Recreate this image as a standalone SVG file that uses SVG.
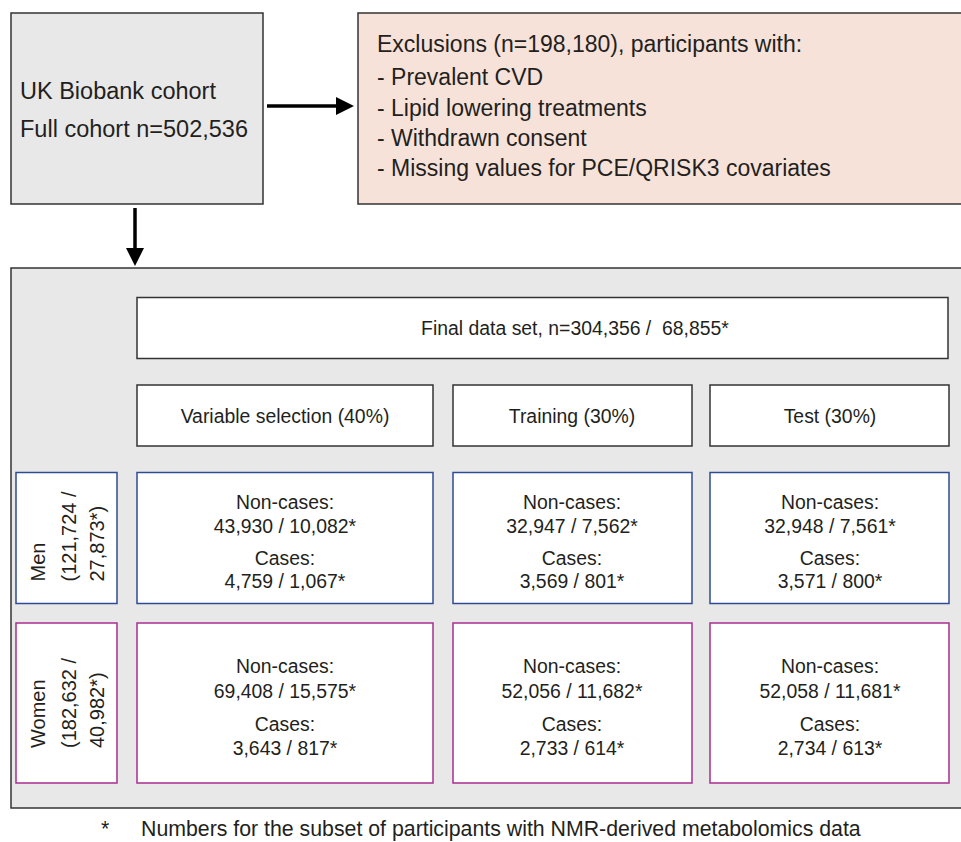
<svg xmlns="http://www.w3.org/2000/svg" width="961" height="842" viewBox="0 0 961 842">
<defs>
<style>
text{font-family:"Liberation Sans",Arial,sans-serif;fill:#231f20}
.big{font-size:23.5px}
.exc{font-size:23px}
.mid{font-size:19.4px}
.c{text-anchor:middle}
.box{stroke:#333;stroke-width:1.5}
.grey{fill:#e8e8e8}
.white{fill:#fff}
.men{fill:#fff;stroke:#2e4b94;stroke-width:1.5}
.women{fill:#fff;stroke:#a92d91;stroke-width:1.5}
.conn{stroke:#000;stroke-width:3.5;fill:none}
</style>
<marker id="ah" markerUnits="userSpaceOnUse" markerWidth="18" markerHeight="18" viewBox="0 0 18 18" refX="0" refY="9" orient="auto">
<path d="M0,0 L18,9 L0,18 Z" fill="#000"/>
</marker>
</defs>
<rect width="961" height="842" fill="#fff"/>
<g id="uk-biobank">
<rect class="box grey" x="11" y="13" width="252" height="191"/>
<text class="big" x="20" y="99">UK Biobank cohort</text>
<text class="big" x="20" y="137">Full cohort n=502,536</text>
</g>
<g id="exclusions">
<rect class="box" fill="#f7e2da" x="358" y="13" width="610" height="191"/>
<text class="exc" x="377" y="52">Exclusions (n=198,180), participants with:</text>
<text class="exc" x="377" y="85">- Prevalent CVD</text>
<text class="exc" x="377" y="116">- Lipid lowering treatments</text>
<text class="exc" x="377" y="146">- Withdrawn consent</text>
<text class="exc" x="377" y="176">- Missing values for PCE/QRISK3 covariates</text>
</g>
<g id="final-panel">
<rect class="box grey" x="11" y="268" width="960" height="540"/>
</g>
<g id="connectors">
<line class="conn" x1="267" y1="106" x2="336" y2="106" marker-end="url(#ah)"/>
<line class="conn" x1="135" y1="208" x2="135" y2="248" marker-end="url(#ah)"/>
</g>
<g id="final-data-set">
<rect class="box white" x="137" y="297.5" width="811" height="61"/>
<text class="mid c" x="575" y="335">Final data set, n=304,356 /&#160; 68,855*</text>
</g>
<g id="variable-selection">
<rect class="box white" x="137" y="385" width="296" height="61"/>
<text class="mid c" x="285" y="423">Variable selection (40%)</text>
</g>
<g id="training">
<rect class="box white" x="453" y="385" width="239" height="61"/>
<text class="mid c" x="572" y="423">Training (30%)</text>
</g>
<g id="test">
<rect class="box white" x="710" y="385" width="239" height="61"/>
<text class="mid c" x="830" y="423">Test (30%)</text>
</g>
<g id="men-label">
<rect class="men" x="16" y="472.5" width="101" height="131"/>
<text style="font-size:20px" transform="translate(45,581.5) rotate(-90)">Men</text>
<text style="font-size:20px" transform="translate(75.5,581.5) rotate(-90)">(121,724 /</text>
<text style="font-size:20px" transform="translate(104,581.5) rotate(-90)">27,873*)</text>
</g>
<g id="women-label">
<rect class="women" x="16" y="623" width="101" height="160"/>
<text style="font-size:20px" transform="translate(45,748) rotate(-90)">Women</text>
<text style="font-size:20px" transform="translate(75.5,748) rotate(-90)">(182,632 /</text>
<text style="font-size:20px" transform="translate(104,748) rotate(-90)">40,982*)</text>
</g>
<g id="men-variable">
<rect class="men" x="137" y="472.5" width="296" height="131"/>
<text class="mid c" x="285" y="509">Non-cases:</text>
<text class="mid c" x="285" y="533">43,930 / 10,082*</text>
<text class="mid c" x="285" y="565">Cases:</text>
<text class="mid c" x="285" y="588">4,759 / 1,067*</text>
</g>
<g id="men-training">
<rect class="men" x="453" y="472.5" width="239" height="131"/>
<text class="mid c" x="572" y="509">Non-cases:</text>
<text class="mid c" x="572" y="533">32,947 / 7,562*</text>
<text class="mid c" x="572" y="565">Cases:</text>
<text class="mid c" x="572" y="588">3,569 / 801*</text>
</g>
<g id="men-test">
<rect class="men" x="710" y="472.5" width="239" height="131"/>
<text class="mid c" x="830" y="509">Non-cases:</text>
<text class="mid c" x="830" y="533">32,948 / 7,561*</text>
<text class="mid c" x="830" y="565">Cases:</text>
<text class="mid c" x="830" y="588">3,571 / 800*</text>
</g>
<g id="women-variable">
<rect class="women" x="137" y="623" width="296" height="160"/>
<text class="mid c" x="285" y="673">Non-cases:</text>
<text class="mid c" x="285" y="698">69,408 / 15,575*</text>
<text class="mid c" x="285" y="731">Cases:</text>
<text class="mid c" x="285" y="755">3,643 / 817*</text>
</g>
<g id="women-training">
<rect class="women" x="453" y="623" width="239" height="160"/>
<text class="mid c" x="572" y="673">Non-cases:</text>
<text class="mid c" x="572" y="698">52,056 / 11,682*</text>
<text class="mid c" x="572" y="731">Cases:</text>
<text class="mid c" x="572" y="755">2,733 / 614*</text>
</g>
<g id="women-test">
<rect class="women" x="710" y="623" width="239" height="160"/>
<text class="mid c" x="830" y="673">Non-cases:</text>
<text class="mid c" x="830" y="698">52,058 / 11,681*</text>
<text class="mid c" x="830" y="731">Cases:</text>
<text class="mid c" x="830" y="755">2,734 / 613*</text>
</g>
<g id="footnote">
<text style="font-size:21.3px" x="101" y="836">*</text>
<text style="font-size:21.3px" x="141" y="836">Numbers for the subset of participants with NMR-derived metabolomics data</text>
</g>
</svg>
